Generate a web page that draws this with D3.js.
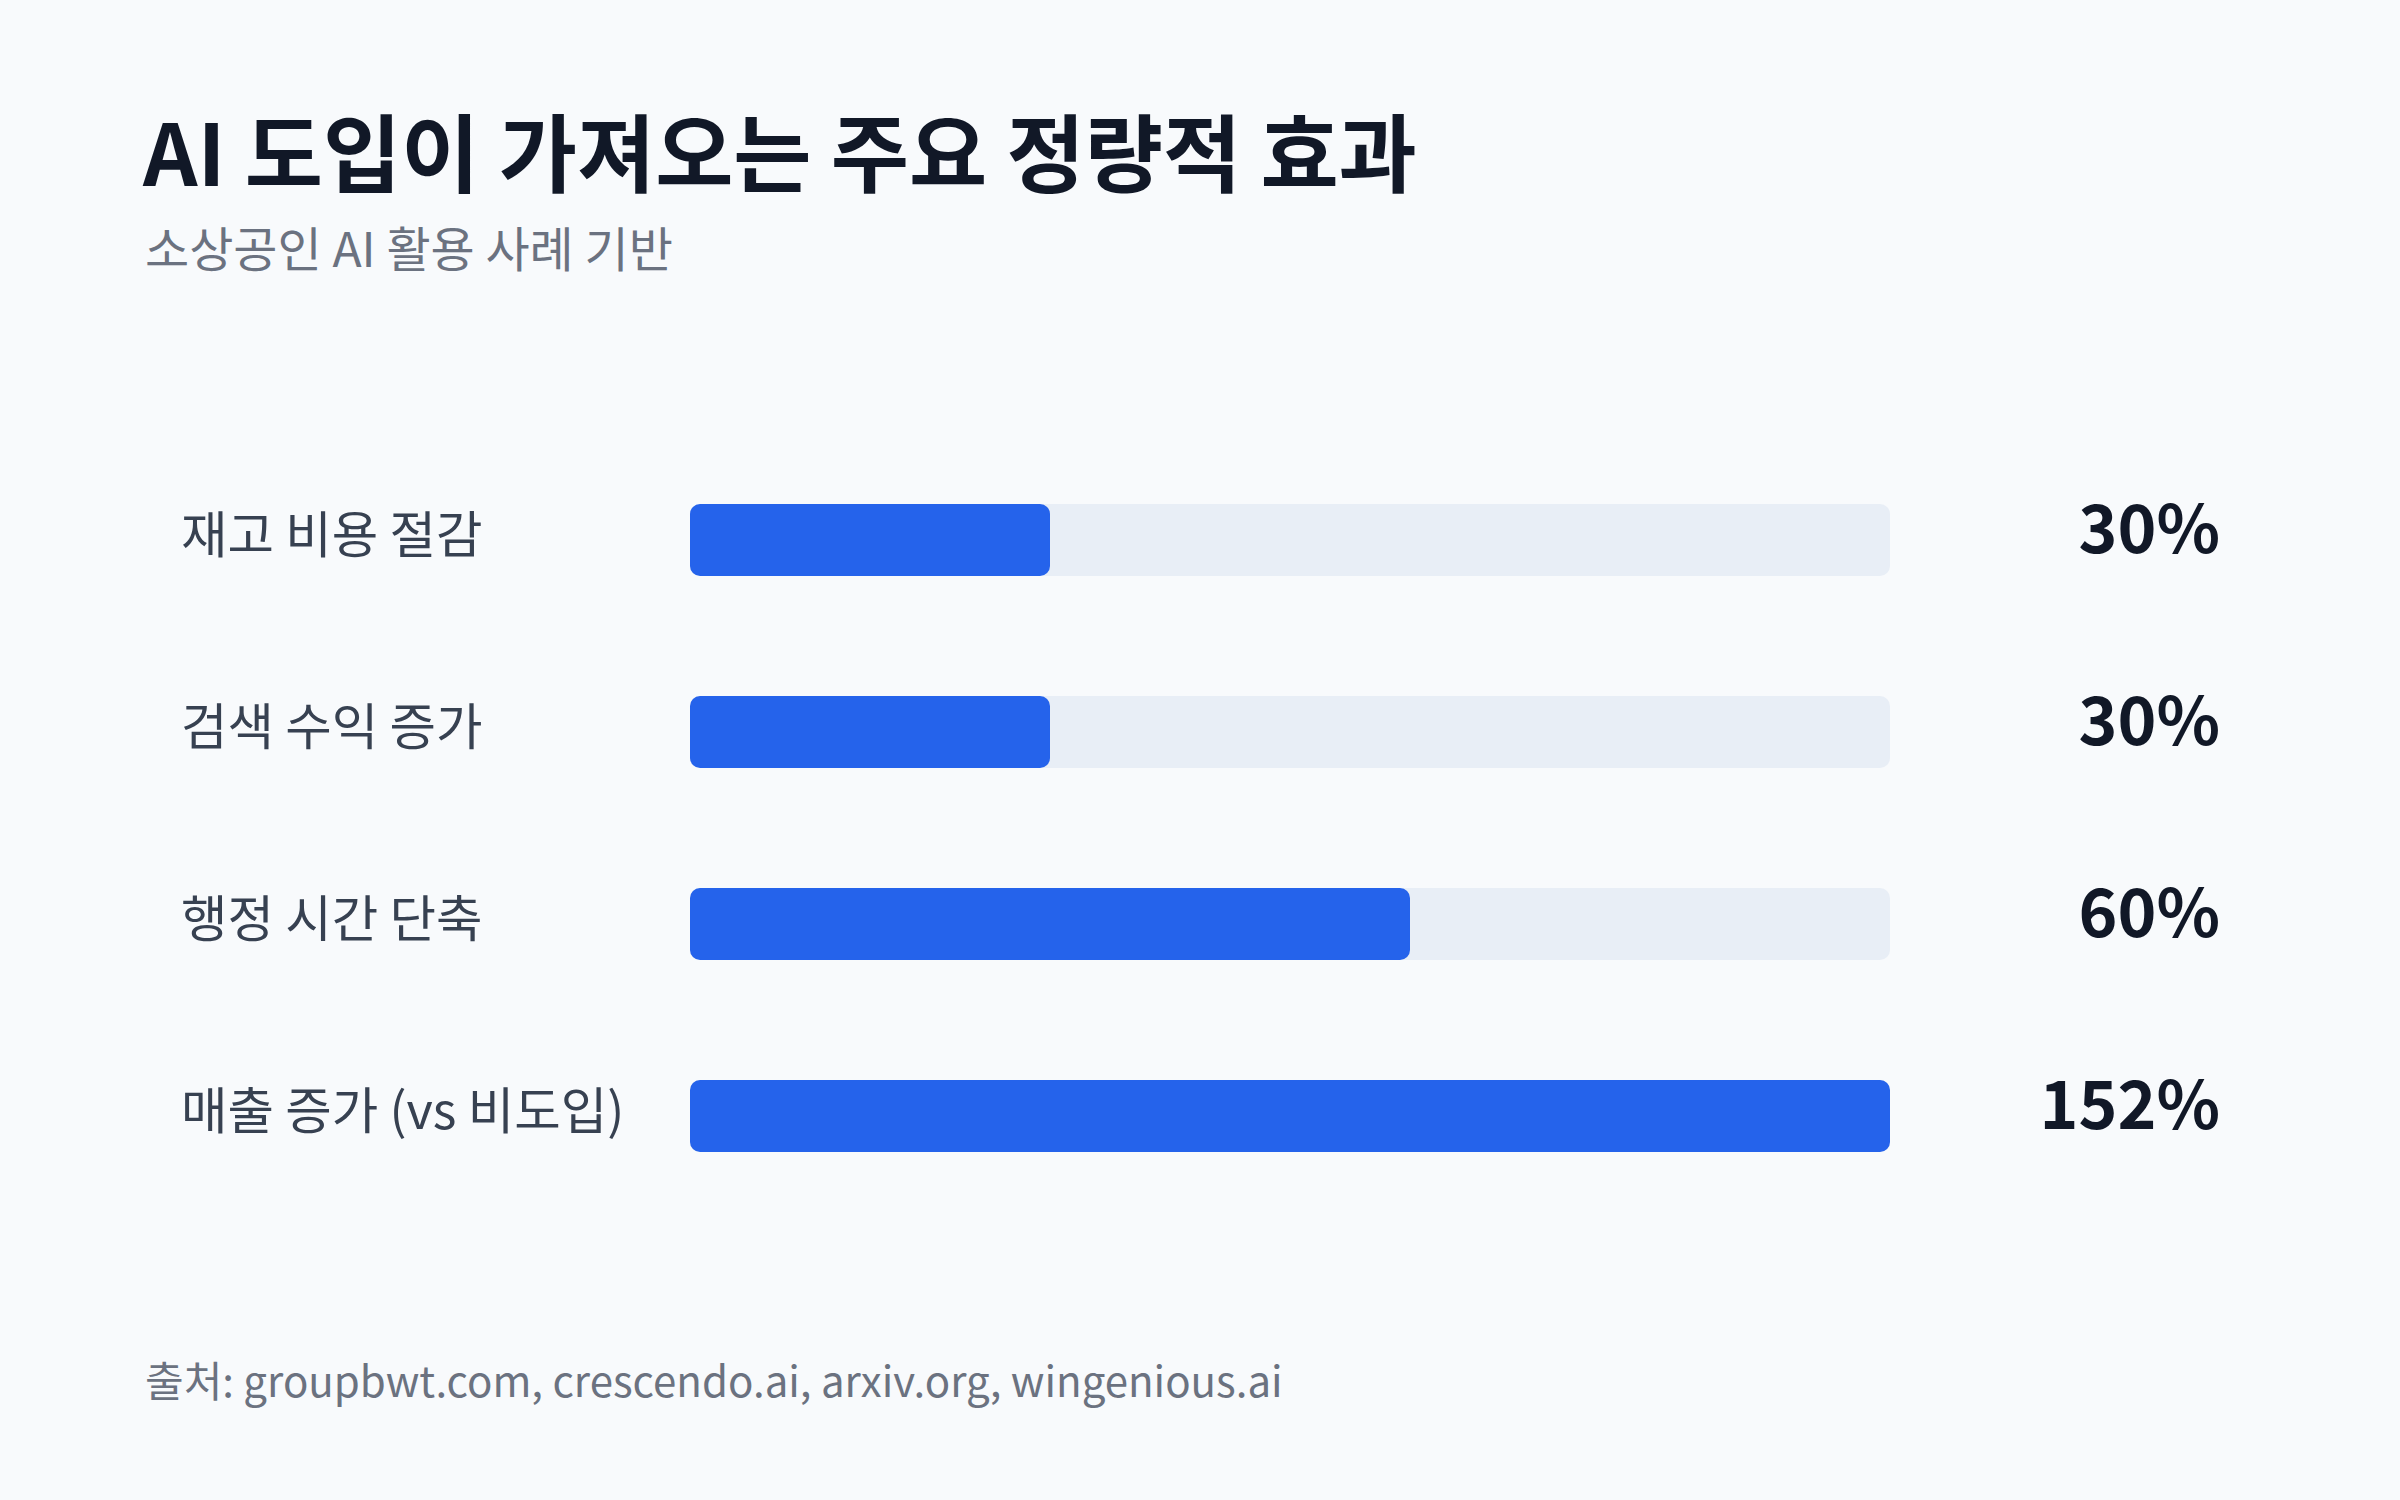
<!DOCTYPE html>
<html><head><meta charset="utf-8">
<script src="https://cdn.jsdelivr.net/npm/d3@7"></script>
<style>
html,body{margin:0;padding:0;background:#f8fafc;}
svg{display:block;font-family:"Noto Sans CJK KR","Noto Sans",sans-serif;}
</style></head>
<body>
<script>
const titleText = "AI 도입이 가져오는 주요 정량적 효과";
const subtitleText = "소상공인 AI 활용 사례 기반";
const sourceText = "출처: groupbwt.com, crescendo.ai, arxiv.org, wingenious.ai";
const categories = ["재고 비용 절감", "검색 수익 증가", "행정 시간 단축", "매출 증가 (vs 비도입)"];
const values = [30, 30, 60, 152];
const valueLabels = ["30%", "30%", "60%", "152%"];

const W = 2400, H = 1500;
const svg = d3.select("body").append("svg").attr("width", W).attr("height", H);
svg.append("rect").attr("width", W).attr("height", H).attr("fill", "#f8fafc");

svg.append("text").attr("x", 143).attr("y", 186)
  .attr("font-size", 85).attr("font-weight", 700).attr("fill", "#111827")
  .text(titleText);
svg.append("text").attr("x", 145).attr("y", 267)
  .attr("font-size", 48).attr("font-weight", 400).attr("fill", "#6b7280")
  .text(subtitleText);

const x = d3.scaleLinear().domain([0, 100]).range([690, 1890]).clamp(true);
const y = d3.scaleBand().domain(categories).range([444, 1212]).paddingInner(0.625).paddingOuter(0.3125);

const rows = svg.append("g").selectAll("g").data(categories).join("g");
rows.append("rect").attr("x", x(0)).attr("y", d => y(d))
  .attr("width", x(100) - x(0)).attr("height", y.bandwidth())
  .attr("rx", 10).attr("fill", "#e8eef6");
rows.append("rect").attr("x", x(0)).attr("y", d => y(d))
  .attr("width", (d, i) => x(values[i]) - x(0)).attr("height", y.bandwidth())
  .attr("rx", 10).attr("fill", "#2563eb");
rows.append("text").attr("x", 181).attr("y", d => y(d) + y.bandwidth() / 2 + 13)
  .attr("font-size", 50.5).attr("fill", "#374151").text(d => d);
rows.append("text").attr("x", 2220).attr("y", d => y(d) + y.bandwidth() / 2 + 13)
  .attr("text-anchor", "end").attr("font-size", 66).attr("font-weight", 700)
  .attr("fill", "#111827").text((d, i) => valueLabels[i]);

svg.append("text").attr("x", 145).attr("y", 1397)
  .attr("font-size", 42).attr("fill", "#6b7280").text(sourceText);
</script>
</body></html>
